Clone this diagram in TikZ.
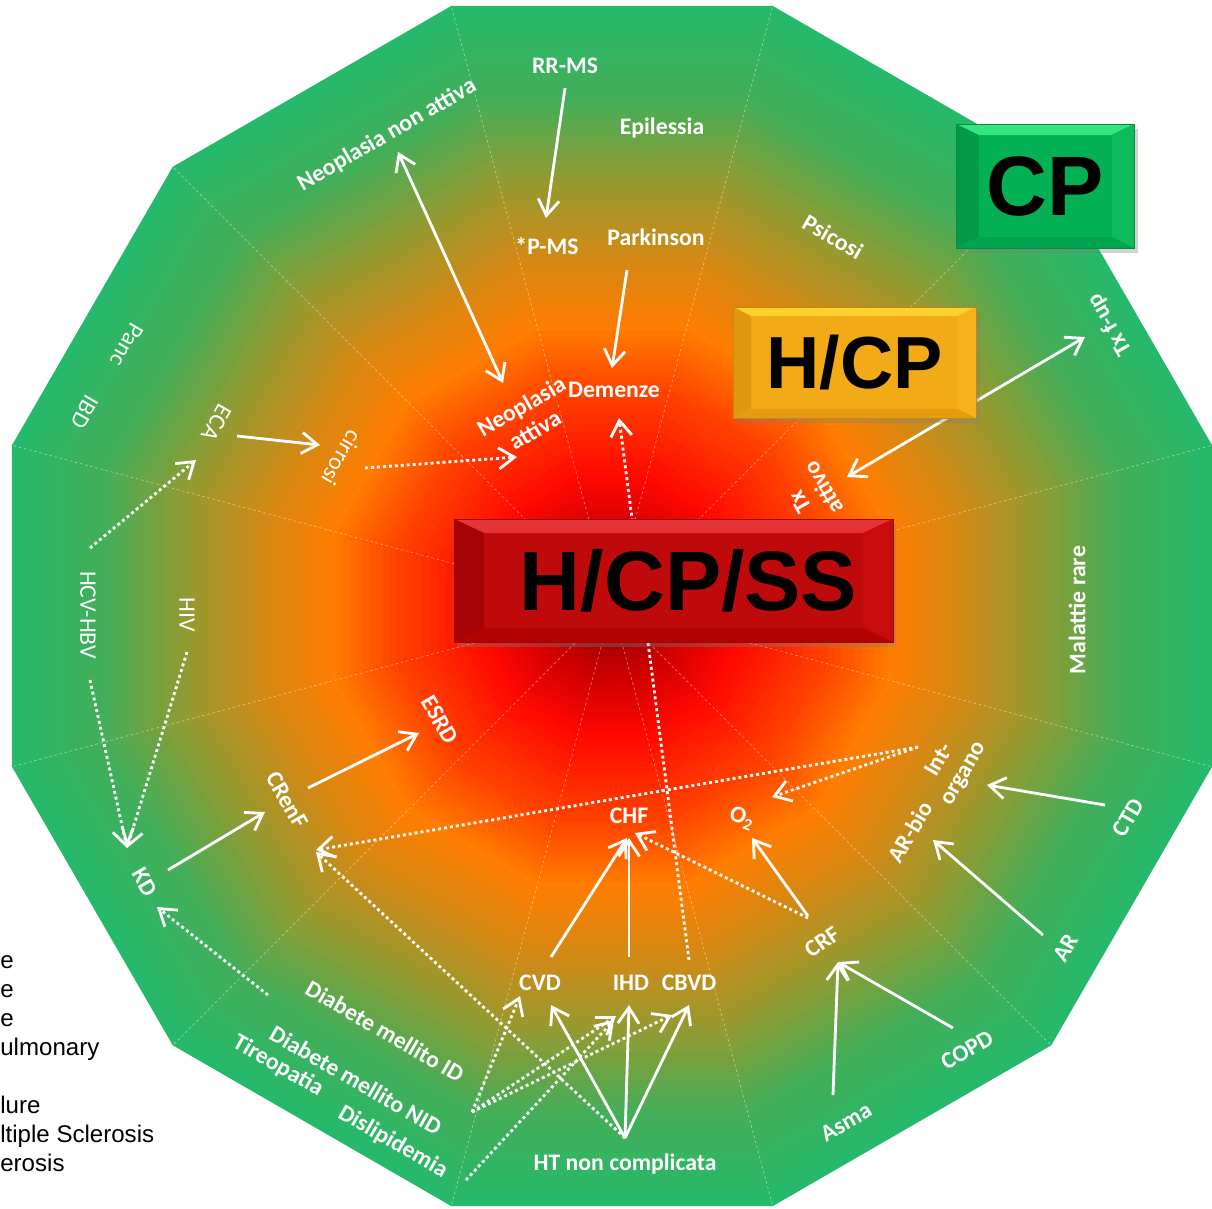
\documentclass[tikz,border=0pt]{standalone}
\usepackage{fontspec}
\setmainfont{Carlito}
\newfontfamily\boxfont{Liberation Sans}
\usetikzlibrary{calc,arrows.meta,shadows}

% ring colours, edge -> centre
\definecolor{bgA}{RGB}{38,185,107}
\definecolor{bgB}{RGB}{68,174,88}
\definecolor{bgC}{RGB}{155,152,45}
\definecolor{bgD}{RGB}{218,135,18}
\definecolor{bgE}{RGB}{255,125,0}
\definecolor{bgF}{RGB}{255,65,0}
\definecolor{bgG}{RGB}{255,8,0}
\definecolor{bgH}{RGB}{205,0,0}
\definecolor{bgI}{RGB}{120,0,0}
% boxes
\definecolor{redbox}{RGB}{190,10,10}
\definecolor{redtop}{RGB}{228,52,56}
\definecolor{redleft}{RGB}{166,4,4}
\definecolor{redright}{RGB}{200,12,12}
\definecolor{redbot}{RGB}{178,2,2}
\definecolor{ylwbox}{RGB}{242,170,22}
\definecolor{ylwtop}{RGB}{252,208,45}
\definecolor{ylwleft}{RGB}{224,152,14}
\definecolor{ylwright}{RGB}{246,178,26}
\definecolor{ylwbot}{RGB}{230,156,16}
\definecolor{grnbox}{RGB}{4,176,84}
\definecolor{grntop}{RGB}{52,230,130}
\definecolor{grnleft}{RGB}{0,154,72}
\definecolor{grnright}{RGB}{12,188,92}
\definecolor{grnbot}{RGB}{0,164,78}

\tikzset{
  >={Straight Barb[length=9pt,width=12pt]},
  lbl/.style={text=white, font=\bfseries\fontsize{13.5}{15.5}\selectfont, align=center, inner sep=2pt},
  lblr/.style={lbl, font=\mdseries\fontsize{13.5}{15.5}\selectfont},
  link/.style={white, line width=1.6pt, ->},
  dlink/.style={link, dash pattern=on 1.7pt off 1.7pt},
  sector/.style={white, opacity=.45, line width=.4pt, dash pattern=on 1.5pt off 1.5pt},
  box/.style={draw=#1!80!black, line width=.5pt, fill=#1, text=black, inner sep=0pt,
    drop shadow={opacity=.35, shadow xshift=2pt, shadow yshift=-3pt}},
  bevel/.style n args={6}{path picture={
    \def\pb{path picture bounding box}
    \fill[#1] (\pb.north west) -- (\pb.north east) -- ([shift={(-#5,-#6)}]\pb.north east) -- ([shift={(#5,-#6)}]\pb.north west) -- cycle;
    \fill[#2] (\pb.north west) -- ([shift={(#5,-#6)}]\pb.north west) -- ([shift={(#5,#6)}]\pb.south west) -- (\pb.south west) -- cycle;
    \fill[#3] (\pb.north east) -- ([shift={(-#5,-#6)}]\pb.north east) -- ([shift={(-#5,#6)}]\pb.south east) -- (\pb.south east) -- cycle;
    \fill[#4] (\pb.south west) -- ([shift={(#5,#6)}]\pb.south west) -- ([shift={(-#5,#6)}]\pb.south east) -- (\pb.south east) -- cycle;
  }},
  legend/.style={anchor=base west, inner sep=0pt, font=\boxfont\fontsize{13.7}{16}\selectfont}
}

\begin{document}
\begin{tikzpicture}[x=0.02cm, y=-0.02cm]
\useasboundingbox (0,0) rectangle (1212,1208);

% background: nested dodecagons
\foreach \fa/\fb/\ca/\cb in {1/.85/bgA/bgB,.85/.70/bgB/bgC,.70/.57/bgC/bgD,.57/.47/bgD/bgE,.47/.36/bgE/bgF,.36/.22/bgF/bgG,.22/.12/bgG/bgH,.12/0/bgH/bgI}
  \foreach \j in {0,...,9}{
    \pgfmathsetmacro\rr{621.2*(\fa-(\fa-\fb)*\j/10)}
    \pgfmathtruncatemacro\pp{10*\j}
    \fill[\cb!\pp!\ca] plot[samples at={15,45,...,345}] ({612+\rr*cos(\x)},{606+\rr*sin(\x)}) -- cycle;
  }
\foreach \a in {15,45,...,345}
  \draw[sector] (612,606) -- ({612+621.2*cos(\a)},{606+621.2*sin(\a)});

% labels
\node[lbl] (rrms) at (565,66) {RR-MS};
\node[lbl] (epil) at (662,128) {Epilessia};
\node[lbl] (pms) at (547,246) {*P-MS};
\node[lbl] (park) at (656,237) {Parkinson};
\node[lbl] (dem) at (614,390) {Demenze};
\node[lbl, rotate=30] (neonon) at (387,135) {Neoplasia non attiva};
\node[lbl, rotate=30] (neoatt) at (528,418) {Neoplasia\\attiva};
\node[lblr, rotate=-120] (panc) at (127,345) {Panc};
\node[lblr, rotate=-120] (ibd) at (85,412) {IBD};
\node[lblr, rotate=-120] (eca) at (217,423) {ECA};
\node[lblr, rotate=-120] (cirr) at (342,458) {cirrosi};
\node[lblr, rotate=-90] (hcv) at (88,615) {HCV-HBV};
\node[lblr, rotate=-90] (hiv) at (187,615) {HIV};
\node[lbl, rotate=-60] (kd) at (145,882) {KD};
\node[lbl, rotate=-60] (crenf) at (287,800) {CRenF};
\node[lbl, rotate=-60] (esrd) at (440,720) {ESRD};
\node[lbl, rotate=-30] (dmid) at (385,1031) {Diabete mellito ID};
\node[lbl, rotate=-30] (dmnid) at (356,1080) {Diabete mellito NID};
\node[lbl, rotate=-30] (tireo) at (278,1066) {Tireopatia};
\node[lbl, rotate=-30] (disli) at (393,1142) {Dislipidemia};
\node[lbl] (ht) at (625,1164) {HT non complicata};
\node[lbl] (cvd) at (540,983) {CVD};
\node[lbl] (ihd) at (631,983) {IHD};
\node[lbl] (cbvd) at (689,983) {CBVD};
\node[lbl] (chf) at (629,816) {CHF};
\node[lbl, rotate=30] (asma) at (846,1122) {Asma};
\node[lbl, rotate=30] (copd) at (967,1050) {COPD};
\node[lbl, rotate=35] (crf) at (822,942) {CRF};
\node[lbl, rotate=-20] (otwo) at (742,818) {O\textsubscript{2}};
\node[lbl, rotate=60] (ctd) at (1128,818) {CTD};
\node[lbl, rotate=60] (ar) at (1066,948) {AR};
\node[lbl, rotate=60] (arbio) at (910,832) {AR-bio};
\node[lbl, rotate=60] (intorg) at (952,767) {Int-\\organo};
\node[lbl, rotate=90] (rare) at (1077,610) {Malattie rare};
\node[lbl, rotate=120] (txfup) at (1110,325) {Tx f-up};
\node[lbl, rotate=120] (txatt) at (812,495) {Tx\\attivo};
\node[lbl, rotate=-30] (psic) at (833,237) {Psicosi};

% links
\draw[link] ($(rrms)+(0,22)$) -- ($(pms)+(-1,-28)$);
\draw[link] ($(park)+(-29,33)$) -- ($(dem)+(-2,-22)$);
\draw[link, <->] ($(neonon)+(11,17)$) -- ($(neoatt)+(-25,-35)$);
\draw[dlink] ($(cbvd)+(0,-23)$) -- ($(dem)+(5,28)$);
\draw[dlink] ($(cirr)+(23,10)$) -- ($(neoatt)+(-11,39)$);
\draw[link] ($(eca)+(20,13)$) -- ($(cirr)+(-22,-13)$);
\draw[dlink] ($(hcv)+(2,-67)$) -- ($(eca)+(-21,37)$);
\draw[dlink] ($(hcv)+(2,65)$) -- ($(kd)+(-18,-34)$);
\draw[dlink] ($(hiv)+(0,37)$) -- ($(kd)+(-18,-34)$);
\draw[link] ($(kd)+(23,-12)$) -- ($(crenf)+(-22,12)$);
\draw[link] ($(crenf)+(21,-12)$) -- ($(esrd)+(-21,13)$);
\draw[dlink] ($(intorg)+(-34,-20)$) -- ($(crenf)+(29,50)$);
\draw[dlink] ($(intorg)+(-34,-20)$) -- ($(otwo)+(30,-21)$);
\draw[dlink] ($(dmid)+(-117,-36)$) -- ($(kd)+(12,25)$);
\draw[dlink] ($(ht)+(0,-26)$) -- ($(crenf)+(29,52)$);
\draw[link] ($(ht)+(0,-26)$) -- ($(cvd)+(11,22)$);
\draw[link] ($(ht)+(0,-26)$) -- ($(ihd)+(-2,22)$);
\draw[link] ($(ht)+(0,-26)$) -- ($(cbvd)+(0,22)$);
\draw[dlink] ($(dmnid)+(116,32)$) -- ($(cvd)+(-20,13)$);
\draw[dlink] ($(dmnid)+(116,32)$) -- ($(ihd)+(-15,33)$);
\draw[dlink] ($(dmnid)+(116,32)$) -- ($(cbvd)+(-17,32)$);
\draw[dlink] ($(disli)+(73,38)$) -- ($(ihd)+(-17,37)$);
\draw[dlink] ($(crf)+(-14,-24)$) -- ($(chf)+(6,17)$);
\draw[link] ($(crf)+(-14,-26)$) -- ($(otwo)+(10,20)$);
\draw[link] ($(cvd)+(11,-26)$) -- ($(chf)+(-2,22)$);
\draw[link] ($(ihd)+(-2,-26)$) -- ($(chf)+(0,22)$);
\draw[link] ($(asma)+(-13,-27)$) -- ($(crf)+(16,20)$);
\draw[link] ($(copd)+(-14,-22)$) -- ($(crf)+(16,20)$);
\draw[link] ($(ar)+(-23,-13)$) -- ($(arbio)+(23,8)$);
\draw[link] ($(ctd)+(-23,-13)$) -- ($(intorg)+(35,18)$);
\draw[link, <->] ($(txatt)+(35,-18)$) -- ($(txfup)+(-25,12)$);

% level boxes
\node[box=redbox, bevel={redtop}{redleft}{redright}{redbot}{.6cm}{.28cm},
  minimum width=8.78cm, minimum height=2.46cm,
  font=\boxfont\bfseries\fontsize{48}{50}\selectfont] (hcpss) at (673.5,580.5) {\hspace{.6cm}H/CP/SS};
\node[box=ylwbox, bevel={ylwtop}{ylwleft}{ylwright}{ylwbot}{.36cm}{.18cm},
  minimum width=4.86cm, minimum height=2.22cm,
  font=\boxfont\bfseries\fontsize{42}{44}\selectfont] (hcp) at (854.5,362.5) {H/CP};
\node[box=grnbox, bevel={grntop}{grnleft}{grnright}{grnbot}{.45cm}{.22cm},
  minimum width=3.56cm, minimum height=2.48cm,
  font=\boxfont\bfseries\fontsize{48}{50}\selectfont] (cp) at (1045,186) {CP};

% cut legend
\node[legend] (leg1) at (0,968) {e};
\node[legend] (leg2) at (0,997) {e};
\node[legend] (leg3) at (0,1026) {e};
\node[legend] (leg4) at (0,1055) {ulmonary};
\node[legend] (leg5) at (0,1113) {lure};
\node[legend] (leg6) at (0,1142) {ltiple Sclerosis};
\node[legend] (leg7) at (0,1171) {erosis};
\end{tikzpicture}
\end{document}
